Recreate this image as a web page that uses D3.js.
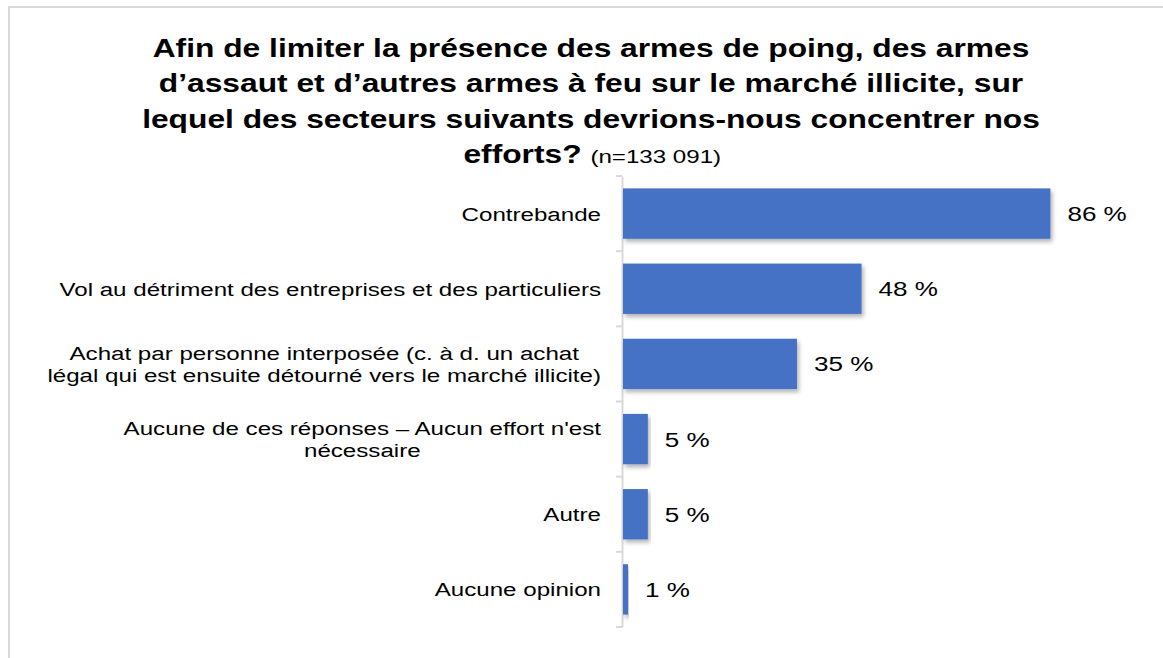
<!DOCTYPE html>
<html>
<head>
<meta charset="utf-8">
<script src="https://cdn.jsdelivr.net/npm/d3@7"></script>
<style>
  body { margin: 0; background: #fff; }
  svg { display: block; font-family: Arial, "Liberation Sans", sans-serif; }
</style>
</head>
<body>
<div id="chart"></div>
<script>
// data
var categories = [
    ["Contrebande"],
    ["Vol au détriment des entreprises et des particuliers"],
    ["Achat par personne interposée (c. à d. un achat", "légal qui est ensuite détourné vers le marché illicite)"],
    ["Aucune de ces réponses \u2013 Aucun effort n'est", "nécessaire"],
    ["Autre"],
    ["Aucune opinion"]
];
var values = [86, 48, 35, 5, 5, 1];
var titleLines = [
    "Afin de limiter la présence des armes de poing, des armes",
    "d\u2019assaut et d\u2019autres armes à feu sur le marché illicite, sur",
    "lequel des secteurs suivants devrions-nous concentrer nos"
];
var titleLast = "efforts?";
var sampleNote = "(n=133 091)";

var width = 1163, height = 658;
// the original picture is a bit wider than tall, so text gets stretched sideways
var stretch = 1.27;

var svg = d3.select("#chart").append("svg")
    .attr("width", width)
    .attr("height", height);

// shadow under the bars
var defs = svg.append("defs");
var f = defs.append("filter").attr("id", "shadow")
    .attr("x", "-5%").attr("y", "-10%").attr("width", "115%").attr("height", "135%");
f.append("feDropShadow").attr("dx", 2).attr("dy", 3).attr("stdDeviation", 2)
    .attr("flood-color", "#000").attr("flood-opacity", 0.3);

// chart frame
svg.append("rect")
    .attr("x", 9).attr("y", 7)
    .attr("width", 1200).attr("height", 700)
    .attr("fill", "none")
    .attr("stroke", "#d9d9d9")
    .attr("stroke-width", 2);

// title
var title = svg.append("g")
    .attr("text-anchor", "middle")
    .attr("transform", "translate(591,0) scale(" + stretch + ",1)");
titleLines.forEach(function (t, i) {
    title.append("text")
        .attr("x", 0).attr("y", 57 + i * 35.5)
        .style("font-size", "25px").style("font-weight", "bold")
        .attr("fill", "#000")
        .text(t);
});
var last = title.append("text")
    .attr("x", 1).attr("y", 163.5).attr("fill", "#000");
last.append("tspan").style("font-size", "25px").style("font-weight", "bold").text(titleLast + " ");
last.append("tspan").style("font-size", "19px").text(sampleNote);

// scales
var x0 = 623;
var x = d3.scaleLinear().domain([0, 100]).range([x0, x0 + 497]);
var y = d3.scaleBand()
    .domain(d3.range(categories.length))
    .range([176, 627])
    .paddingInner(0.33)
    .paddingOuter(0.165);

// axis
var axis = svg.append("g")
    .attr("transform", "translate(" + (x0 - 1) + ",0)")
    .call(d3.axisLeft(y).tickSize(0).tickFormat(""));
axis.select(".domain").attr("stroke", "#d9d9d9").attr("stroke-width", 2);
var step = y.step();
axis.selectAll(".sep")
    .data(d3.range(categories.length + 1))
    .enter().append("line")
    .attr("class", "sep")
    .attr("x1", -6).attr("x2", 0)
    .attr("y1", function (d) { return 176 + d * step; })
    .attr("y2", function (d) { return 176 + d * step; })
    .attr("stroke", "#d9d9d9").attr("stroke-width", 2);

// bars
svg.selectAll(".bar")
    .data(values)
    .enter().append("rect")
    .attr("class", "bar")
    .attr("x", x(0))
    .attr("y", function (d, i) { return y(i); })
    .attr("width", function (d) { return x(d) - x(0); })
    .attr("height", y.bandwidth())
    .attr("fill", "#4472c4")
    .attr("filter", "url(#shadow)");

// value labels
svg.selectAll(".val")
    .data(values)
    .enter().append("text")
    .attr("class", "val")
    .attr("transform", function (d, i) {
        return "translate(" + (x(d) + 17) + "," + (y(i) + y.bandwidth() / 2 + 7.5) + ") scale(" + stretch + ",1)";
    })
    .style("font-size", "20.5px")
    .attr("fill", "#000")
    .text(function (d) { return d + " %"; });

// category labels: block sits against the axis, wrapped lines centred in it
var catG = svg.append("g")
    .attr("transform", "translate(601,0) scale(" + stretch + ",1)");
categories.forEach(function (lines, i) {
    var c = y(i) + y.bandwidth() / 2;
    var lh = 22;
    var top = c - (lines.length - 1) * lh / 2 + 7;
    var texts = lines.map(function (l, k) {
        return catG.append("text")
            .attr("class", "cat")
            .attr("text-anchor", "end")
            .attr("y", top + k * lh)
            .style("font-size", "19px")
            .attr("fill", "#000")
            .text(l);
    });
    var lens = texts.map(function (t) { return t.node().getComputedTextLength(); });
    var w = d3.max(lens);
    texts.forEach(function (t, k) { t.attr("x", -(w - lens[k]) / 2); });
});
</script>
</body>
</html>
